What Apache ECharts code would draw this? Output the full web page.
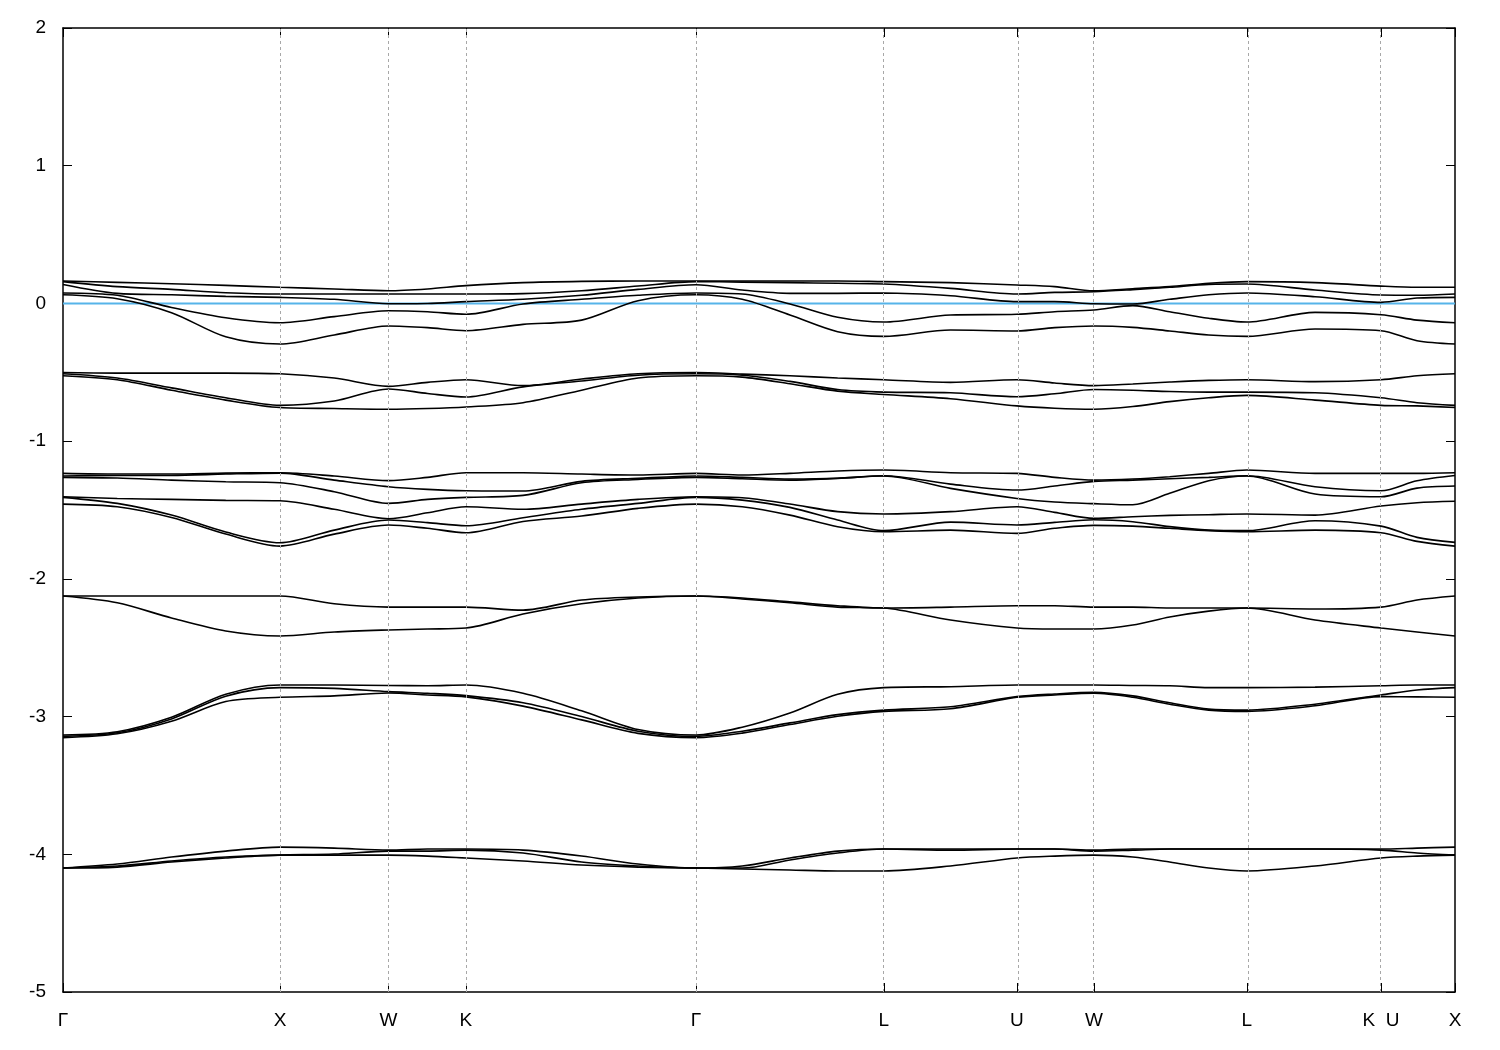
<!DOCTYPE html>
<html><head><meta charset="utf-8">
<script src="https://cdn.jsdelivr.net/npm/echarts@6/dist/echarts.min.js"></script>
<style>html,body{margin:0;padding:0;background:#fff}#c{width:1500px;height:1050px}</style>
</head><body><div id="c"></div>
<script>
// k-path sample positions (path distance, X = 1)
const kpath = [0,0.25,0.5,0.75,1.0,1.25,1.5,1.68,1.857,2.12,2.39,2.65,2.917,3.13,3.35,3.57,3.783,4.09,4.396,4.57,4.751,4.93,5.10,5.28,5.456,5.77,6.074,6.24,6.415];
const tickPos = [0,1.0,1.5,1.857,2.917,3.783,4.396,4.751,5.456,6.074,6.415];
const tickLabels = ['Γ','X','W','K','Γ','L','U','W','L','K  U','X'];
const fermiLevel = 0;

// bands near the Fermi level
const T1 = [0.163,0.153,0.143,0.131,0.117,0.105,0.092,0.105,0.129,0.151,0.160,0.163,0.163,0.163,0.163,0.163,0.158,0.151,0.134,0.122,0.092,0.107,0.122,0.146,0.158,0.151,0.126,0.117,0.117];
const T2 = [0.158,0.122,0.102,0.078,0.068,0.068,0.068,0.068,0.068,0.071,0.092,0.126,0.158,0.155,0.151,0.146,0.141,0.109,0.068,0.080,0.085,0.100,0.117,0.138,0.141,0.097,0.061,0.059,0.068];
const T3 = [0.138,0.073,0.063,0.051,0.044,0.030,-0.002,0.000,0.013,0.030,0.059,0.102,0.136,0.097,0.073,0.073,0.076,0.056,0.013,0.013,-0.002,-0.004,0.030,0.063,0.076,0.049,0.008,0.039,0.044];
const T4 = [0.076,0.059,-0.029,-0.104,-0.140,-0.096,-0.053,-0.060,-0.079,-0.004,0.030,0.059,0.076,0.068,-0.004,-0.101,-0.135,-0.084,-0.079,-0.060,-0.048,-0.016,-0.060,-0.108,-0.135,-0.065,-0.082,-0.121,-0.140];
const T5 = [0.063,0.034,-0.067,-0.242,-0.295,-0.229,-0.164,-0.176,-0.198,-0.152,-0.121,0.020,0.063,0.030,-0.084,-0.205,-0.239,-0.193,-0.200,-0.176,-0.164,-0.174,-0.200,-0.229,-0.239,-0.186,-0.198,-0.271,-0.295];

// bands around -0.6
const B1 = [-0.502,-0.506,-0.506,-0.506,-0.511,-0.542,-0.602,-0.573,-0.554,-0.597,-0.549,-0.511,-0.502,-0.513,-0.525,-0.542,-0.554,-0.573,-0.554,-0.578,-0.597,-0.585,-0.571,-0.559,-0.554,-0.568,-0.554,-0.525,-0.511];
const B2 = [-0.511,-0.542,-0.613,-0.685,-0.740,-0.709,-0.621,-0.654,-0.680,-0.606,-0.563,-0.521,-0.511,-0.521,-0.566,-0.625,-0.644,-0.649,-0.678,-0.656,-0.625,-0.630,-0.640,-0.644,-0.644,-0.649,-0.685,-0.721,-0.740];
const B3 = [-0.525,-0.554,-0.630,-0.702,-0.756,-0.763,-0.768,-0.763,-0.752,-0.721,-0.630,-0.542,-0.525,-0.535,-0.583,-0.637,-0.661,-0.692,-0.744,-0.761,-0.768,-0.749,-0.713,-0.685,-0.668,-0.702,-0.740,-0.744,-0.756];

// bands around -1.5
const C1 = [-1.234,-1.239,-1.239,-1.232,-1.229,-1.253,-1.287,-1.263,-1.229,-1.229,-1.239,-1.246,-1.234,-1.246,-1.234,-1.217,-1.210,-1.229,-1.234,-1.263,-1.283,-1.275,-1.258,-1.234,-1.210,-1.234,-1.234,-1.234,-1.229];
const C2 = [-1.253,-1.249,-1.249,-1.239,-1.232,-1.283,-1.331,-1.350,-1.360,-1.362,-1.292,-1.270,-1.253,-1.263,-1.275,-1.270,-1.251,-1.312,-1.355,-1.326,-1.292,-1.283,-1.273,-1.263,-1.251,-1.331,-1.360,-1.287,-1.249];
const C3 = [-1.263,-1.268,-1.283,-1.295,-1.302,-1.367,-1.452,-1.423,-1.408,-1.394,-1.302,-1.278,-1.263,-1.273,-1.283,-1.270,-1.253,-1.343,-1.416,-1.442,-1.454,-1.462,-1.379,-1.287,-1.253,-1.384,-1.404,-1.341,-1.326];
const C4 = [-1.404,-1.416,-1.423,-1.430,-1.433,-1.495,-1.563,-1.520,-1.476,-1.495,-1.457,-1.423,-1.404,-1.411,-1.457,-1.512,-1.529,-1.512,-1.476,-1.517,-1.561,-1.549,-1.539,-1.534,-1.529,-1.537,-1.471,-1.447,-1.437];
const C5 = [-1.408,-1.452,-1.537,-1.660,-1.738,-1.646,-1.573,-1.592,-1.614,-1.556,-1.495,-1.452,-1.408,-1.428,-1.481,-1.573,-1.650,-1.588,-1.609,-1.590,-1.571,-1.585,-1.621,-1.646,-1.650,-1.578,-1.617,-1.699,-1.735];
const C6 = [-1.457,-1.476,-1.554,-1.675,-1.762,-1.675,-1.609,-1.633,-1.665,-1.583,-1.544,-1.488,-1.457,-1.476,-1.537,-1.621,-1.658,-1.646,-1.670,-1.633,-1.612,-1.617,-1.633,-1.650,-1.658,-1.646,-1.665,-1.728,-1.762];

// bands around -2.2
const D1 = [-2.125,-2.125,-2.125,-2.125,-2.125,-2.181,-2.205,-2.205,-2.205,-2.227,-2.154,-2.132,-2.125,-2.139,-2.167,-2.195,-2.212,-2.205,-2.195,-2.195,-2.205,-2.205,-2.212,-2.212,-2.212,-2.219,-2.205,-2.154,-2.125];
const D2 = [-2.125,-2.174,-2.284,-2.379,-2.415,-2.386,-2.371,-2.364,-2.357,-2.255,-2.181,-2.139,-2.125,-2.146,-2.174,-2.205,-2.212,-2.299,-2.357,-2.364,-2.364,-2.335,-2.277,-2.234,-2.212,-2.299,-2.357,-2.386,-2.415];

// bands around -2.9
const E1 = [-3.134,-3.110,-3.005,-2.838,-2.771,-2.771,-2.774,-2.776,-2.771,-2.831,-2.958,-3.094,-3.134,-3.077,-2.974,-2.838,-2.790,-2.783,-2.771,-2.771,-2.771,-2.774,-2.776,-2.790,-2.790,-2.786,-2.776,-2.771,-2.771];
const E2 = [-3.144,-3.118,-3.017,-2.852,-2.790,-2.795,-2.819,-2.831,-2.848,-2.900,-3.000,-3.106,-3.144,-3.106,-3.046,-2.986,-2.953,-2.929,-2.855,-2.836,-2.824,-2.850,-2.900,-2.946,-2.953,-2.910,-2.843,-2.807,-2.790];
const E3 = [-3.153,-3.125,-3.034,-2.891,-2.860,-2.850,-2.829,-2.843,-2.857,-2.924,-3.024,-3.122,-3.153,-3.120,-3.058,-2.998,-2.962,-2.943,-2.860,-2.843,-2.831,-2.860,-2.910,-2.953,-2.962,-2.922,-2.855,-2.857,-2.860];

// bands around -4
const F1 = [-4.100,-4.071,-4.020,-3.977,-3.948,-3.955,-3.970,-3.962,-3.962,-3.970,-4.013,-4.071,-4.100,-4.085,-4.027,-3.977,-3.962,-3.962,-3.962,-3.962,-3.970,-3.962,-3.962,-3.962,-3.962,-3.962,-3.962,-3.955,-3.948];
const F2 = [-4.100,-4.085,-4.049,-4.020,-4.006,-3.998,-3.977,-3.977,-3.970,-3.991,-4.056,-4.085,-4.100,-4.100,-4.041,-3.991,-3.962,-3.970,-3.962,-3.962,-3.977,-3.970,-3.962,-3.962,-3.962,-3.962,-3.970,-3.991,-4.006];
const F3 = [-4.100,-4.093,-4.056,-4.027,-4.006,-4.006,-4.006,-4.013,-4.027,-4.049,-4.078,-4.093,-4.100,-4.107,-4.114,-4.121,-4.121,-4.085,-4.027,-4.013,-4.006,-4.020,-4.056,-4.100,-4.121,-4.085,-4.027,-4.013,-4.006];

const bandList = [T1,T2,T3,T4,T5,B1,B2,B3,C1,C2,C3,C4,C5,C6,D1,D2,E1,E2,E3,F1,F2,F3];

const FONT = 'Liberation Sans, Arial, sans-serif';
const chart = echarts.init(document.getElementById('c'), null, {renderer: 'canvas'});
const kmax = tickPos[tickPos.length - 1];
function labelFor(v) {
  for (let i = 0; i < tickPos.length; i++) if (Math.abs(tickPos[i] - v) < 1e-6) return tickLabels[i];
  return '';
}
const xCommon = {
  type: 'value', min: 0, max: kmax,
  axisLine: {show: true, onZero: false, lineStyle: {color: '#000', width: 1.5}},
  splitLine: {show: false}
};
const yCommon = {
  type: 'value', min: -5, max: 2, interval: 1,
  axisLine: {show: true, onZero: false, lineStyle: {color: '#000', width: 1.5}},
  axisTick: {show: true, inside: true, length: 9, lineStyle: {color: '#000', width: 1}},
  splitLine: {show: false}
};
const series = [{
  type: 'line', name: 'EF',
  data: [[0, fermiLevel], [kmax, fermiLevel]],
  showSymbol: false, silent: true, z: 2,
  lineStyle: {color: '#56b4e9', width: 2},
  markLine: {
    silent: true, symbol: 'none', animation: false,
    label: {show: false},
    lineStyle: {color: '#a8a8a8', type: [3, 3], width: 1},
    data: tickPos.slice(1, -1).map(v => ({xAxis: v}))
  }
}];
bandList.forEach((b, j) => {
  series.push({
    type: 'line', name: 'band' + j,
    data: kpath.map((k, i) => [k, b[i]]),
    showSymbol: false, smooth: 0.3, z: 3, silent: true,
    lineStyle: {color: '#000', width: 1.6}
  });
});
chart.setOption({
  animation: false,
  backgroundColor: '#fff',
  grid: {left: 63, right: 45, top: 28, bottom: 58, containLabel: false},
  xAxis: [
    Object.assign({}, xCommon, {
      position: 'bottom',
      axisTick: {show: true, inside: true, length: 9, customValues: tickPos, lineStyle: {color: '#000', width: 1}},
      axisLabel: {show: true, customValues: tickPos, formatter: v => labelFor(v), color: '#000',
        fontSize: 19, fontFamily: FONT, margin: 19}
    }),
    Object.assign({}, xCommon, {
      position: 'top',
      axisTick: {show: true, inside: true, length: 9, customValues: tickPos, lineStyle: {color: '#000', width: 1}},
      axisLabel: {show: false}
    })
  ],
  yAxis: [
    Object.assign({}, yCommon, {position: 'left',
      axisLabel: {show: true, color: '#000', fontSize: 19, fontFamily: FONT, margin: 17}}),
    Object.assign({}, yCommon, {position: 'right', axisLabel: {show: false}})
  ],
  series: series
});
</script></body></html>
